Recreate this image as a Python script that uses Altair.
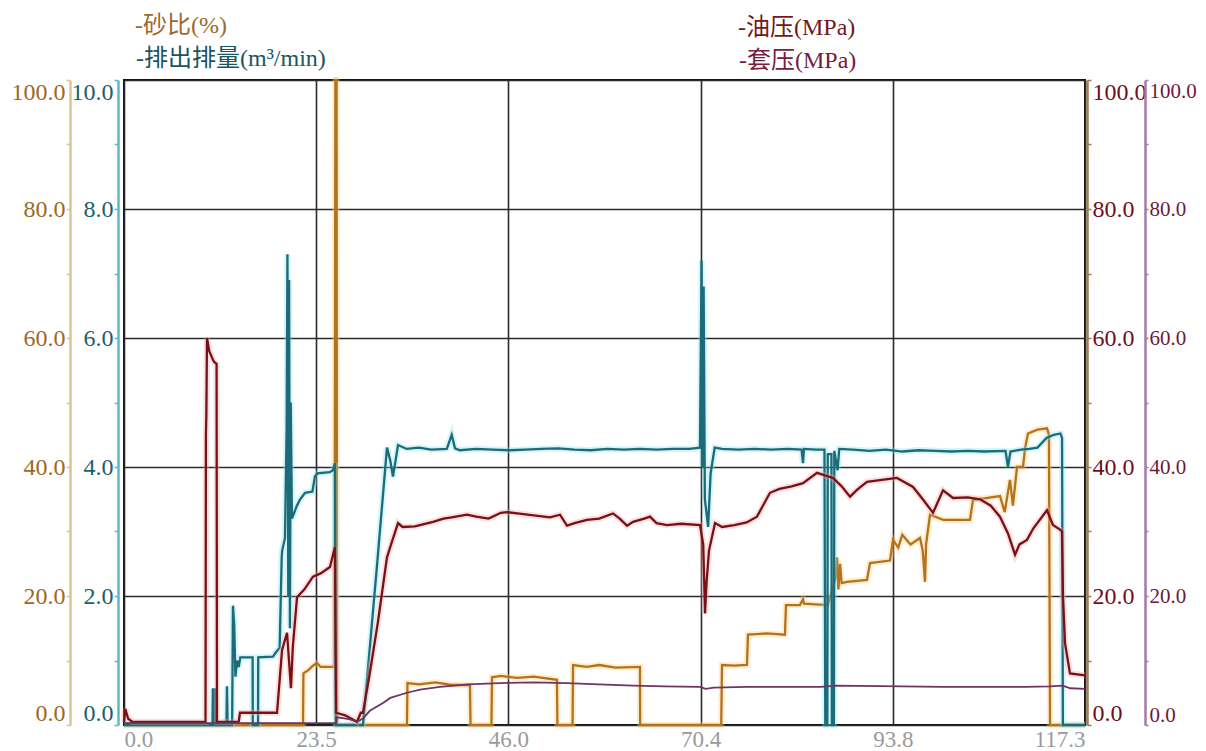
import altair as alt
import pandas as pd

# ---------------- data ----------------
x_ticks = [0, 23.46, 46.92, 70.38, 93.84, 117.3]
x_tick_labels = ["0.0", "23.5", "46.0", "70.4", "93.8", "117.3"]

legend_labels = ["-砂比(%)", "-排出排量(m³/min)", "-油压(MPa)", "-套压(MPa)"]

# 砂比 (%)
sand_t = [0, 21.85, 21.9, 22.5, 23.07, 23.56, 24.0, 25.7, 25.8, 25.95, 26.0, 34.54, 34.6, 36.0, 38.0, 40.0,
          42.23, 42.3, 44.85, 44.92, 46.0, 48.0, 50.0, 52.85, 52.9, 54.75, 54.81, 56.5, 58.0, 60.0, 62.98,
          63.0, 72.9, 72.99, 74.5, 76.04, 76.16, 78.5, 80.68, 80.8, 82.5, 82.88, 83.0, 85.9, 86.9, 87.03,
          87.2, 87.4, 87.6, 88.25, 90.69, 91.06, 93.5, 93.87, 94.5, 95.0, 96.0, 97.16, 97.5, 97.77, 97.9,
          98.38, 100.0, 103.26, 103.63, 106.92, 107.5, 108.14, 108.5, 109.0, 109.73, 110.0, 110.34, 111.5,
          112.66, 112.9, 113.03, 117.3]
sand_v = [0, 0, 8.0, 8.5, 9.2, 9.6, 9.0, 9.0, 100, 100, 0, 0, 6.5, 6.3, 6.6, 6.2, 6.2, 0, 0, 7.4, 7.6,
          7.3, 7.5, 7.0, 0, 0, 9.3, 9.0, 9.3, 8.9, 9.0, 0, 0, 9.3, 9.2, 9.3, 14.0, 14.2, 14.0, 18.6, 18.6,
          19.5, 18.8, 18.6, 23.0, 26.0, 21.0, 25.0, 22.0, 22.2, 22.5, 25.1, 25.5, 28.7, 27.5, 29.5, 28.0,
          29.0, 27.0, 22.2, 28.0, 32.6, 31.8, 31.8, 34.9, 35.5, 33.0, 38.0, 34.0, 40.0, 40.0, 43.0, 45.2,
          45.8, 46.0, 45.0, 0, 0]

# 排出排量 (m3/min)
rate_t = [0, 10.8, 10.85, 10.9, 11.05, 11.1, 11.15, 12.5, 12.57, 12.65,
          13.2, 13.3, 13.45, 13.6, 13.8, 14.0, 14.2, 15.7, 15.72, 16.36,
          16.38, 18.19, 18.5, 19.0, 19.25, 19.3, 19.65, 19.85, 19.95, 20.05,
          20.15, 20.25, 20.35, 20.5, 21.1, 21.5, 22.1, 23.0, 23.3, 23.6,
          25.1, 25.5, 25.75, 25.85, 29.17, 30.8, 32.1, 32.5, 32.83, 33.45,
          34.5, 36.0, 37.5, 39.4, 40.0, 40.4, 41.0, 43.0, 45.0, 47.0,
          49.0, 51.0, 53.0, 55.0, 57.0, 59.0, 61.0, 63.0, 65.0, 67.0,
          69.0, 70.3, 70.5, 70.6, 70.75, 70.9, 71.3, 71.6, 72.1, 73.0,
          75.0, 77.0, 79.0, 81.0, 82.7, 82.88, 83.0, 84.5, 85.5, 85.6,
          85.85, 85.9, 86.35, 86.4, 86.65, 86.7, 87.1, 87.3, 89.0, 91.0,
          93.0, 95.0, 97.0, 99.0, 101.0, 103.0, 105.0, 107.6, 107.9, 108.2,
          109.5, 110.5, 111.5, 112.6, 113.5, 114.3, 114.5, 114.6, 117.3]
rate_v = [0, 0, 0.57, 0, 0, 0.57, 0, 0, 0.6, 0,
          0, 1.85, 1.55, 0.75, 1.0, 0.9, 1.05, 1.05, 0, 0,
          1.05, 1.06, 1.12, 1.2, 2.6, 2.7, 2.9, 4.6, 7.3, 2.0,
          6.9, 1.5, 5.0, 3.2, 3.4, 3.5, 3.6, 3.62, 3.85, 3.9,
          3.92, 3.95, 4.06, 0, 0, 2.35, 4.3, 4.1, 3.85, 4.34,
          4.28, 4.30, 4.27, 4.28, 4.5, 4.29, 4.26, 4.28, 4.27, 4.26,
          4.27, 4.28, 4.29, 4.27, 4.26, 4.28, 4.27, 4.28, 4.27, 4.28,
          4.28, 4.30, 7.2, 4.0, 6.8, 3.5, 3.07, 3.9, 4.30, 4.28,
          4.27, 4.28, 4.27, 4.28, 4.27, 4.06, 4.28, 4.27, 4.27, 0,
          0, 4.2, 4.2, 0, 0, 4.25, 3.95, 4.28, 4.27, 4.25,
          4.27, 4.24, 4.26, 4.25, 4.24, 4.25, 4.24, 4.25, 4.0, 4.24,
          4.27, 4.28, 4.3, 4.45, 4.5, 4.52, 4.45, 0, 0]

# 油压 (MPa)
oil_t = [0, 0.15, 0.5, 1.0, 9.95, 10.0, 10.05, 10.13, 10.4, 10.9,
         11.0, 11.3, 11.35, 14.0, 14.16, 18.68, 19.29, 19.9, 20.14, 20.38,
         20.6, 21.12, 22.0, 23.07, 24.0, 25.14, 25.75, 25.88, 27.0, 28.44,
         28.9, 29.17, 30.0, 31.0, 32.1, 32.6, 33.45, 34.0, 35.5, 37.72,
         39.0, 40.0, 41.87, 43.0, 44.5, 46.0, 46.75, 48.0, 50.0, 52.0,
         53.22, 54.07, 55.0, 56.5, 58.0, 59.69, 60.5, 61.4, 62.13, 63.5,
         64.2, 65.0, 66.28, 68.0, 70.31, 70.7, 70.92, 71.1, 71.4, 72.14,
         73.0, 74.5, 76.0, 77.26, 78.2, 78.85, 80.0, 81.5, 82.88, 84.59,
         86.54, 87.6, 88.62, 89.5, 90.69, 92.5, 94.35, 96.31, 97.5, 98.75,
         99.97, 101.19, 103.0, 104.48, 105.8, 106.92, 107.9, 108.76, 109.3, 110.22,
         111.0, 112.66, 113.39, 114.25, 114.49, 114.61, 114.86, 115.47, 117.3]
oil_v = [0.5, 2.5, 1.0, 0.5, 0.5, 45, 48, 60, 58, 56.5,
         56.3, 56, 0.5, 0.5, 1.9, 1.9, 11.6, 14.3, 10, 5.7,
         12, 19.8, 21, 23, 23.5, 24.5, 27.6, 1.9, 1.5, 0.5,
         1.9, 1.9, 8, 16, 26, 28, 31.3, 30.7, 30.8, 31.5,
         32.0, 32.2, 32.6, 32.3, 32.0, 32.9, 33.0, 32.8, 32.5, 32.2,
         32.6, 30.9, 31.3, 31.8, 32.0, 32.8, 32.0, 30.9, 31.5, 32.0,
         32.3, 31.3, 31.0, 31.2, 31.0, 28, 17.3, 22, 27, 31.3,
         30.7, 31.0, 31.4, 32.3, 34.5, 36.0, 36.6, 37.0, 37.5, 39.1,
         38.3, 37.0, 35.4, 36.5, 37.7, 38.0, 38.3, 36.9, 35.0, 32.9,
         36.4, 35.2, 35.3, 35.0, 34.0, 32.3, 29.7, 26.4, 28.0, 28.7,
         30.5, 33.3, 31.0, 30.3, 30.0, 20, 12.7, 8.0, 7.7]

# 套压 (MPa)
casing_t = [0, 25.9, 26.0, 27.5, 28.44, 29.17, 30.0, 31.61, 32.5, 34.54,
            36.13, 38.57, 42.0, 45.89, 50.0, 54.07, 58.0, 62.13, 66.0, 70.31,
            71.0, 72.0, 76.0, 80.0, 85.0, 87.0, 95.0, 100.0, 105.0, 110.0,
            113.0, 114.6, 115.5, 117.3]
casing_v = [0.3, 0.3, 1.2, 0.9, 0.5, 1.0, 2.2, 3.4, 4.2, 5.0,
            5.5, 5.9, 6.3, 6.5, 6.6, 6.5, 6.3, 6.1, 6.0, 5.9,
            5.6, 5.8, 5.9, 5.9, 5.9, 6.1, 6.0, 5.9, 5.9, 5.9,
            6.0, 6.1, 5.7, 5.6]

# ---------------- styling ----------------
FONT = "Liberation Serif, Noto Sans CJK SC"
C_SAND, C_RATE, C_OIL, C_CAS = "#b4721f", "#1d6a78", "#761216", "#6e3466"
GRID = "#2a2a2a"


def frame(ts, vs):
    return pd.DataFrame({"t": ts, "v": vs, "i": list(range(len(ts)))})


label_expr = "[" + ",".join("'%s'" % s for s in x_tick_labels) + "][round(datum.value / 23.46)]"
x_enc = alt.X(
    "t:Q",
    scale=alt.Scale(domain=[0, 117.3], nice=False, zero=False),
    axis=alt.Axis(values=x_ticks, labelExpr=label_expr, grid=True, gridColor=GRID, gridWidth=1.6,
                  domain=False, ticks=False, labelColor="#9a9a9a", labelFont=FONT, labelFontSize=23,
                  labelFlush=True, labelPadding=3, title=None),
)


def y_axis(orient, offset, step, label_color, domain_color, grid=False, size=24, tick=4, pad=1):
    vals = [round(step * k, 1) for k in range(11)]
    kw = dict(orient=orient, offset=offset, values=vals,
              labelExpr="(round(datum.value / %s) %% 2 == 0) ? format(datum.value, '.1f') : ''" % step,
              labelColor=label_color, labelFont=FONT, labelFontSize=size, labelFlush=True,
              labelPadding=pad, tickSize=tick, tickColor=domain_color, tickWidth=1.5,
              domainColor=domain_color, domainWidth=2.5, title=None, grid=grid)
    if grid:
        kw.update(gridColor=GRID, gridWidth=1.6,
                  gridOpacity={"condition": {"test": "round(datum.value / %s) %% 2 == 0" % step, "value": 1},
                               "value": 0})
    return alt.Axis(**kw)


def series(df, top, axis, color, halo, width=2.3):
    base = alt.Chart(df).encode(
        x=x_enc,
        y=alt.Y("v:Q", scale=alt.Scale(domain=[0, top], nice=False, zero=False), axis=axis),
        order="i:Q",
    )
    layers = []
    if halo:
        layers.append(base.mark_line(color=halo, strokeWidth=width + 4, opacity=0.35))
    layers.append(base.mark_line(color=color, strokeWidth=width))
    return alt.layer(*layers)


sand_l = series(frame(sand_t, sand_v), 100,
                y_axis("left", 54, 10, "#9c6a24", "#dcc496", grid=True), C_SAND, "#ffcf70")
rate_l = series(frame(rate_t, rate_v), 10,
                y_axis("left", 6, 1, "#1a5f6e", "#5fb8c6"), C_RATE, "#7fe6f5")
oil_l = series(frame(oil_t, oil_v), 100,
               y_axis("right", 2, 10, "#6e1020", "#9c7a58"), C_OIL, "#f2a6a6")
cas_l = series(frame(casing_t, casing_v), 100,
               y_axis("right", 60, 10, "#6e1a3e", "#a37aa8", size=21, tick=3, pad=1),
               C_CAS, None, width=1.8)


def legend_text(label, color, px, py):
    return alt.Chart(pd.DataFrame({"label": [label]})).mark_text(
        align="left", baseline="middle", font=FONT, fontSize=24, color=color
    ).encode(text="label:N", x=alt.value(px), y=alt.value(py))


texts = [
    legend_text(legend_labels[0], "#9c6a2c", 11, -54),
    legend_text(legend_labels[1], "#1a5560", 12, -21),
    legend_text(legend_labels[2], "#741820", 614, -52),
    legend_text(legend_labels[3], "#74203e", 615, -19),
]

chart = (
    alt.layer(sand_l, rate_l, oil_l, cas_l, *texts)
    .resolve_scale(y="independent")
    .properties(width=961, height=645, background="white",
                padding={"left": 116, "top": 72, "right": 113, "bottom": 26},
                autosize=alt.AutoSizeParams(type="none"))
    .configure_view(stroke="#111111", strokeWidth=2)
)

chart.save("out.html", embed_options={"renderer": "svg", "actions": False})
